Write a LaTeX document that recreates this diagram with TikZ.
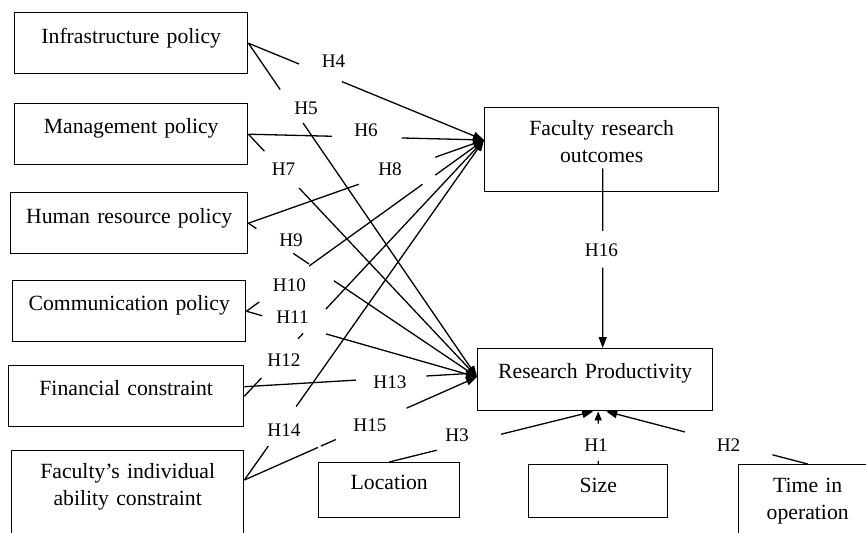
\documentclass[tikz,border=0pt]{standalone}
\usepackage{fontspec}
\setmainfont{Liberation Serif}
\usetikzlibrary{arrows.meta,calc}
\begin{document}
\begin{tikzpicture}[x=1pt,y=-1pt,
  box/.style={draw, line width=1.4pt, inner sep=0pt, anchor=north west, align=center,
    font=\fontsize{21.7}{26.7}\selectfont},
  lbl/.style={font=\fontsize{19.2}{22}\selectfont, anchor=base, inner sep=0pt},
  conn/.style={line width=1.3pt},
  arr/.style={-{Triangle[length=11pt,width=8pt]}}]
\useasboundingbox (0,0) rectangle (866,532);
\clip (0,0) rectangle (866,532);
% boxes
\node[box, text width=233pt, text height=31pt, text depth=30pt] (infra) at (14,12) {Infrastructure policy};
\node[box, text width=233pt, text height=30pt, text depth=31pt] (mgmt) at (14,103) {Management policy};
\node[box, text width=237pt, text height=31pt, text depth=30pt] (hr) at (10,192) {Human resource policy};
\node[box, text width=233pt, text height=30pt, text depth=31pt] (comm) at (12,280) {Communication policy};
\node[box, text width=235pt, text height=30pt, text depth=31pt] (fin) at (8,365) {Financial constraint};
\node[box, text width=232pt, text height=28pt, text depth=67pt] (fac) at (11,450) {Faculty’s individual\\ability constraint};
\node[box, text width=234pt, text height=28pt, text depth=56pt] (fro) at (484,107) {Faculty research\\outcomes};
\node[box, text width=235pt, text height=30pt, text depth=32pt] (rp) at (477,348) {Research Productivity};
\node[box, text width=141pt, text height=27pt, text depth=28pt] (loc) at (318,462) {Location};
\node[box, text width=139pt, text height=28pt, text depth=25pt] (size) at (528,464) {Size};
\node[box, text width=138pt, text height=27.7pt, text depth=58pt] (time) at (738,464) {Time in\\operation};
% endpoints
\coordinate (froT) at ($(fro.north west)+(0,33)$);
\coordinate (rpT) at ($(rp.north west)+(0,29)$);
\coordinate (rpT2) at ($(rp.north west)+(0,25)$);
\coordinate (finE) at ($(fin.east)+(0,-9.5)$);
\coordinate (facE) at ($(fac.north east)+(0,30)$);
\coordinate (rpB3) at ($(rp.south)+(-2,0)$);
\coordinate (rpB1) at ($(rp.south)+(3,0)$);
\coordinate (rpB2) at ($(rp.south)+(11,0)$);
\coordinate (h16a) at ($(fro.south)+(1,-24)$);
\coordinate (h16b) at (h16a |- rp.north);
% H4
\draw[conn] (infra.east) -- ($(infra.east)!0.215!(froT)$);
\draw[conn,arr] ($(infra.east)!0.397!(froT)$) -- (froT);
% H5
\draw[conn] (infra.east) -- ($(infra.east)!0.139!(rpT)$);
\draw[conn,arr] ($(infra.east)!0.239!(rpT)$) -- (rpT);
% H6
\draw[conn] (mgmt.east) -- ($(mgmt.east)!0.354!(froT)$);
\draw[conn,arr] ($(mgmt.east)!0.65!(froT)$) -- (froT);
% H7
\draw[conn] (mgmt.east) -- ($(mgmt.east)!0.07!(rpT)$);
\draw[conn,arr] ($(mgmt.east)!0.222!(rpT)$) -- (rpT);
% H8
\draw[conn] (hr.east) -- ($(hr.east)!0.468!(froT)$);
\draw[conn,arr] ($(hr.east)!0.793!(froT)$) -- (froT);
% H10
\draw[conn] (hr.east) -- ($(hr.east)!0.035!(rpT)$);
\draw[conn] ($(hr.east)!0.196!(rpT)$) -- ($(hr.east)!0.265!(rpT)$);
\draw[conn,arr] ($(hr.east)!0.374!(rpT)$) -- (rpT);
% H9
\draw[conn] (comm.east) -- ($(comm.east)!0.054!(froT)$);
\draw[conn] ($(comm.east)!0.264!(froT)$) -- ($(comm.east)!0.741!(froT)$);
\draw[conn,arr] ($(comm.east)!0.795!(froT)$) -- (froT);
% H11
\draw[conn] (comm.east) -- ($(comm.east)!0.069!(rpT)$);
\draw[conn,arr] ($(comm.east)!0.345!(rpT)$) -- (rpT);
% H12
\draw[conn] (fin.east) -- ($(fin.east)!0.071!(froT)$);
\draw[conn] ($(fin.east)!0.224!(froT)$) -- ($(fin.east)!0.245!(froT)$);
\draw[conn,arr] ($(fin.east)!0.34!(froT)$) -- (froT);
% H13
\draw[conn] (finE) -- ($(finE)!0.479!(rpT2)$);
\draw[conn,arr] ($(finE)!0.782!(rpT2)$) -- (rpT2);
% H14
\draw[conn] (facE) -- ($(facE)!0.1!(froT)$);
\draw[conn,arr] ($(facE)!0.216!(froT)$) -- (froT);
% H15
\draw[conn] (facE) -- ($(facE)!0.316!(rpT)$);
\draw[conn] ($(facE)!0.329!(rpT)$) -- ($(facE)!0.393!(rpT)$);
\draw[conn,arr] ($(facE)!0.697!(rpT)$) -- (rpT);
% H3
\draw[conn] (loc.north) -- ($(loc.north)!0.233!(rpB3)$);
\draw[conn,arr] ($(loc.north)!0.549!(rpB3)$) -- (rpB3);
% H1
\draw[conn] (size.north) -- ($(size.north)!0.06!(rpB1)$);
\draw[conn,-{Triangle[length=9pt,width=7pt]}] ($(size.north)!0.77!(rpB1)$) -- (rpB1);
% H2
\draw[conn] (time.north) -- ($(time.north)!0.175!(rpB2)$);
\draw[conn,arr] ($(time.north)!0.61!(rpB2)$) -- (rpB2);
% H16
\draw[conn] (h16a) -- ($(h16a)!0.348!(h16b)$);
\draw[conn,arr] ($(h16a)!0.552!(h16b)$) -- (h16b);
% labels
\node[lbl] (l4) at (333.5,68) {H4};
\node[lbl] (l5) at (306,114) {H5};
\node[lbl] (l6) at (366,136.7) {H6};
\node[lbl] (l7) at (283.5,175) {H7};
\node[lbl] (l8) at (390,175) {H8};
\node[lbl] (l9) at (291,246) {H9};
\node[lbl] (l10) at (289.5,291.7) {H10};
\node[lbl] (l11) at (292.5,323.3) {H11};
\node[lbl] (l12) at (284,366) {H12};
\node[lbl] (l13) at (390,388.3) {H13};
\node[lbl] (l14) at (284,436.7) {H14};
\node[lbl] (l15) at (370,431.7) {H15};
\node[lbl] (l3) at (457,441.7) {H3};
\node[lbl] (l1) at (596,451.7) {H1};
\node[lbl] (l2) at (728.5,451.7) {H2};
\node[lbl] (l16) at (601.5,256.7) {H16};
\end{tikzpicture}
\end{document}
